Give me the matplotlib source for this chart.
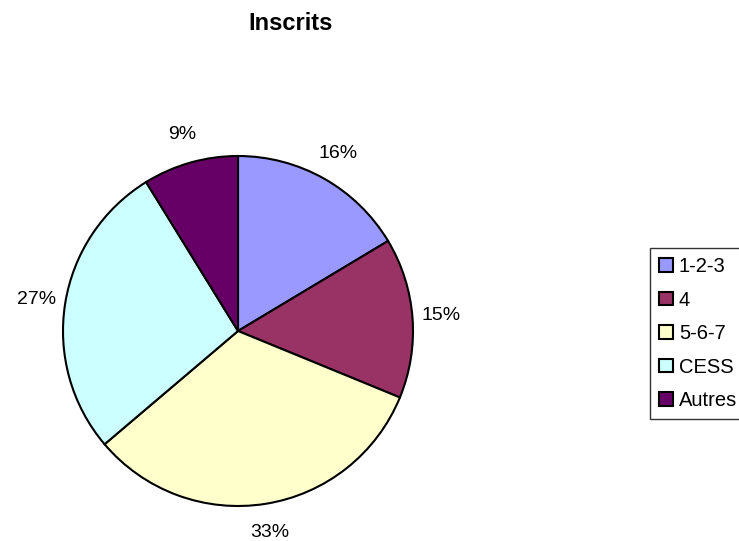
import matplotlib
matplotlib.use("Agg")
from matplotlib import pyplot as plt

plt.rcParams['font.family'] = ['Liberation Sans', 'DejaVu Sans']

# data (percent of inscrits)
categories = ['1-2-3', '4', '5-6-7', 'CESS', 'Autres']
values = [16.4, 14.8, 32.6, 27.4, 8.8]
colors = ['#9999FF', '#993366', '#FFFFCC', '#CCFFFF', '#660066']

fig = plt.figure(figsize=(7.39, 5.41), dpi=100)
# pie axes: centre ~ (238, 331) px, radius ~175 px
ax = fig.add_axes([(238 - 175) / 739, 1 - (331 + 175) / 541, 350 / 739, 350 / 541])
wedges, texts, autotexts = ax.pie(
    values, colors=colors, startangle=90, counterclock=False,
    autopct='%.0f%%', pctdistance=1.165, radius=1.0,
    wedgeprops=dict(edgecolor='black', linewidth=1.5),
    textprops=dict(fontsize=14, color='black'))
ax.set_xlim(-1, 1)
ax.set_ylim(-1, 1)
ax.set_aspect('equal')

fig.text(291 / 739, 1 - 23 / 541, 'Inscrits', ha='center', va='center',
         fontsize=17, fontweight='bold')

leg = fig.legend(wedges, categories, loc='upper left',
                 bbox_to_anchor=(650 / 739, 1 - 248 / 541),
                 fontsize=14.5, frameon=True, fancybox=False, shadow=False,
                 handlelength=0.68, handleheight=0.68, handletextpad=0.3,
                 labelspacing=0.72, borderpad=0.45, borderaxespad=0)
leg.get_frame().set_edgecolor('black')
leg.get_frame().set_linewidth(1.0)
for h in leg.legend_handles:
    h.set_linewidth(1.5)

fig.savefig('out.png', dpi=100)
